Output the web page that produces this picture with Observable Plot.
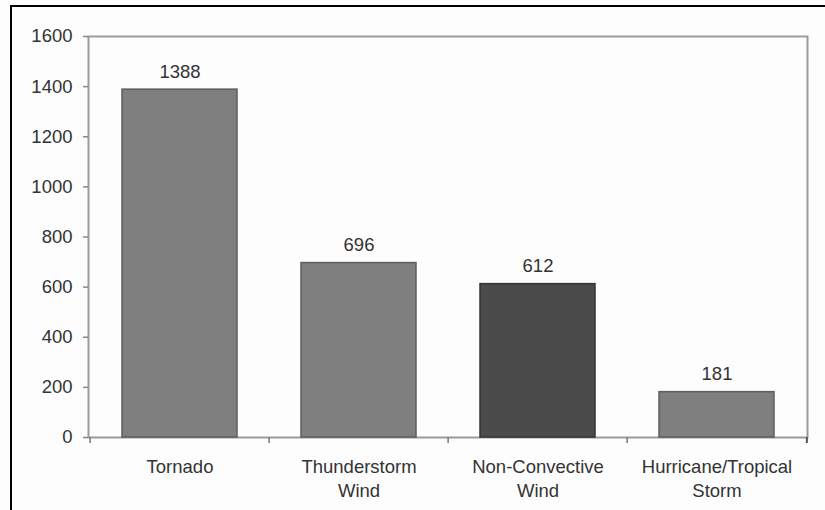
<!DOCTYPE html>
<html><head><meta charset="utf-8">
<script src="https://cdn.jsdelivr.net/npm/d3@7"></script>
<script src="https://cdn.jsdelivr.net/npm/@observablehq/plot@0.6"></script>
<style>
html,body{margin:0;padding:0;background:#fff;}
#wrap{position:relative;width:825px;height:510px;overflow:hidden;background:#fdfdfd;}
#wrap svg{position:absolute;left:0;top:0;}
#border{position:absolute;left:10px;top:5px;right:-5px;bottom:-5px;border-left:2px solid #000;border-top:2px solid #000;pointer-events:none;}
</style></head><body><div id="wrap"><div id="border"></div></div>
<script>
const categories = ["Tornado", "Thunderstorm\nWind", "Non-Convective\nWind", "Hurricane/Tropical\nStorm"];
const values = [1388, 696, 612, 181];
const barFills = ["#7f7f7f", "#7f7f7f", "#4b4b4b", "#7f7f7f"];
const barStrokes = ["#5e5e5e", "#5e5e5e", "#333333", "#5e5e5e"];
const yTicks = [0, 200, 400, 600, 800, 1000, 1200, 1400, 1600];

const table = categories.map((c, i) => ({category: c, value: values[i], fill: barFills[i], stroke: barStrokes[i]}));

const W = 825, H = 510, ML = 88, MR = 18, MT = 36, MB = 73;
const step = (W - ML - MR) / categories.length;
const font = "'Liberation Sans', Arial, Helvetica, sans-serif";
const FS = 18.5;

const chart = Plot.plot({
  width: W, height: H,
  marginLeft: ML, marginRight: MR, marginTop: MT, marginBottom: MB,
  style: {fontFamily: font, fontSize: FS + "px", background: "transparent", color: "#333"},
  x: {domain: categories, paddingInner: 0.36, paddingOuter: 0.18, axis: null},
  y: {domain: [0, 1600], axis: null},
  marks: [
    Plot.frame({stroke: "#9a9a9a", strokeWidth: 2}),
    Plot.barY(table, {x: "category", y: "value", fill: "fill", stroke: "stroke", strokeWidth: 1.5}),
    Plot.text(table, {x: "category", y: "value", text: d => String(d.value), lineAnchor: "bottom", dy: -12, fontSize: FS, fill: "#333"}),
    Plot.axisY({ticks: yTicks, tickFormat: d => String(d), label: null, tickSize: 5, tickPadding: 11, stroke: "#888", fill: "#333", fontSize: FS, strokeWidth: 1.5}),
    Plot.ruleX(categories, {x: d => d, dx: -step / 2, y1: 0, y2: 0, insetBottom: -6, stroke: "#777", strokeWidth: 1.5}),
    Plot.ruleX(categories.slice(-1), {x: d => d, dx: step / 2, y1: 0, y2: 0, insetBottom: -6, stroke: "#555", strokeWidth: 2}),
    Plot.text(categories, {x: d => d, y: () => 0, text: d => d, lineAnchor: "top", dy: 18, lineHeight: 1.3, fontSize: FS, fill: "#333"})
  ]
});
document.getElementById("wrap").prepend(chart);
</script>
</body></html>
